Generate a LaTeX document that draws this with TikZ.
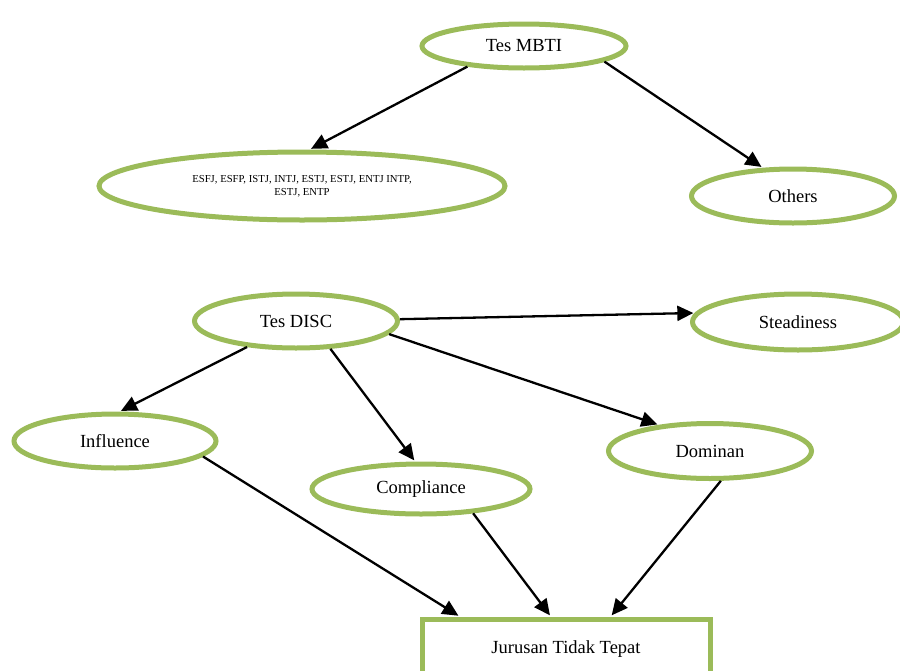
\documentclass[tikz,border=0pt]{standalone}
\usepackage{fontspec}
\setmainfont{Liberation Serif}
\usetikzlibrary{shapes.geometric, arrows.meta}

\begin{document}
\begin{tikzpicture}[x=1pt, y=-1pt,
      oval/.style={ellipse, draw=olive9b, line width=5pt, fill=white, inner sep=0pt, align=center, font=\fontsize{18.5}{22}\selectfont},
      box/.style={draw=olive9b, line width=5pt, fill=white, minimum width=288pt, minimum height=60pt, font=\fontsize{18.5}{22}\selectfont},
      arr/.style={-{Triangle[length=16pt, width=15pt]}, line width=2.3pt, shorten >=1.5pt}
    ]
      \definecolor{olive9b}{RGB}{155,187,89}
      \useasboundingbox (0,0) rectangle (900,670);
      \clip (0,0) rectangle (900,670);

      \node[oval, minimum width=204pt, minimum height=44pt] (mbti)   at (524,46)  {Tes MBTI};
      \node[oval, minimum width=406pt, minimum height=68pt, font=\fontsize{10.7}{13}\selectfont] (types)  at (302,186)
        {ESFJ, ESFP, ISTJ, INTJ, ESTJ, ESTJ, ENTJ INTP,\\ESTJ, ENTP};
      \node[oval, minimum width=203pt, minimum height=54pt] (others) at (793,196) {Others};

      \node[oval, minimum width=203pt, minimum height=54pt] (disc)   at (296,321) {Tes DISC};
      \node[oval, minimum width=211pt, minimum height=56pt] (steady) at (798,322) {Steadiness};
      \node[oval, minimum width=202pt, minimum height=54pt] (infl)   at (115,441) {Influence};
      \node[oval, minimum width=218pt, minimum height=50pt] (compl)  at (421,489) {Compliance};
      \node[oval, minimum width=203pt, minimum height=55pt] (domin)  at (710,451) {Dominan};

      \node[box] (wrong) at (566,649) {Jurusan Tidak Tepat};

      \draw[arr] (mbti.200)  -- (types.78);
      \draw[arr] (mbti.349)  -- (others.137);
      \draw[arr] (disc.1)    -- (steady.175);
      \draw[arr] (disc.208)  -- (infl.81);
      \draw[arr] (disc.321)  -- (compl.102);
      \draw[arr] (disc.352)  -- (domin.153);
      \draw[arr] (infl.350)  -- (wrong.163);
      \draw[arr] (compl.335) -- (wrong.115);
      \draw[arr] (domin.290) -- (wrong.36);
    \end{tikzpicture}
\end{document}
